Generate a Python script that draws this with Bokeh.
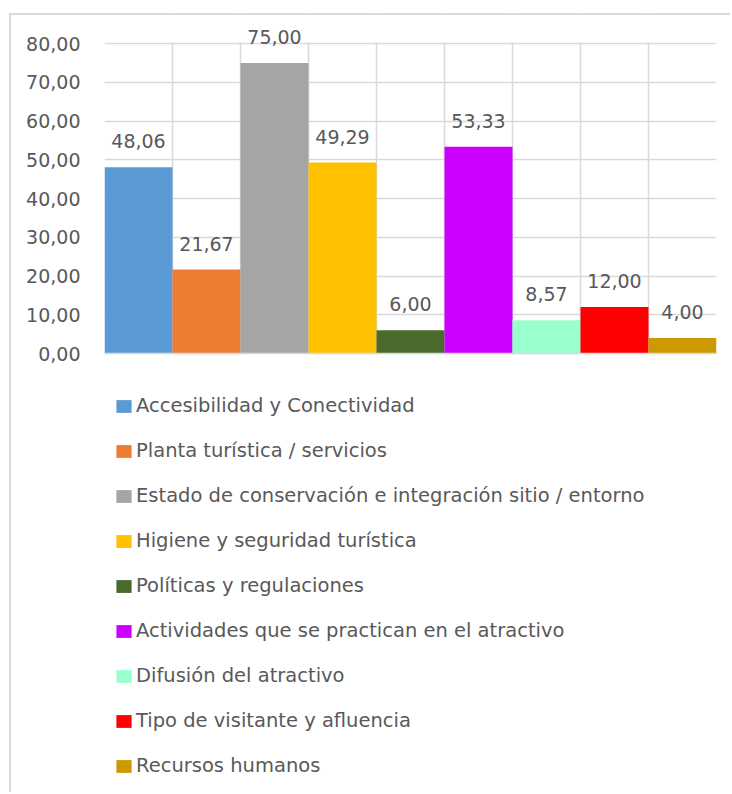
from bokeh.plotting import figure
from bokeh.models import (ColumnDataSource, FixedTicker, Legend, LegendItem,
                          BoxAnnotation, Span)
from bokeh.core.properties import value
from bokeh.embed import file_html
from bokeh.resources import INLINE

categories = [
    "Accesibilidad y Conectividad",
    "Planta turística / servicios",
    "Estado de conservación e integración sitio / entorno",
    "Higiene y seguridad turística",
    "Políticas y regulaciones",
    "Actividades que se practican en el atractivo",
    "Difusión del atractivo",
    "Tipo de visitante y afluencia",
    "Recursos humanos",
]
values = [48.06, 21.67, 75.00, 49.29, 6.00, 53.33, 8.57, 12.00, 4.00]
colors = ["#5B9BD5", "#ED7D31", "#A5A5A5", "#FFC000", "#4A6B2B",
          "#CC00FF", "#99FFCC", "#FF0000", "#CC9900"]
y_ticks = [0, 10, 20, 30, 40, 50, 60, 70, 80]
y_tick_labels = ["0,00", "10,00", "20,00", "30,00", "40,00", "50,00",
                 "60,00", "70,00", "80,00"]
y_max = 80

FONT = "DejaVu Sans"
TXT = "#595959"
GRID = "#D9D9D9"

# layout (pixels)
W, H = 721, 779
LEFT, RIGHT = 93, 16
TOP_PAD = 28          # space between canvas top and the 80 line
PLOT_H = 310          # 0 -> 80
px_per_unit = PLOT_H / y_max
below_px = H - TOP_PAD - PLOT_H

src = ColumnDataSource(dict(
    x=[i + 0.5 for i in range(len(values))],
    top=values,
    color=colors,
    label=[f"{v:.2f}".replace(".", ",") for v in values],
))

p = figure(width=W, height=H, output_backend="svg", toolbar_location=None,
           x_range=(0, len(values)),
           y_range=(-below_px / px_per_unit, y_max + TOP_PAD / px_per_unit),
           min_border_left=LEFT, min_border_right=RIGHT, min_border_top=0,
           min_border_bottom=0)
p.margin = (13, 0, 0, 9)
p.styles = {"border-left": f"2px solid {GRID}", "border-top": f"2px solid {GRID}"}
p.outline_line_color = None
p.background_fill_color = "white"
p.border_fill_color = "white"

p.xaxis.visible = False
p.xgrid.ticker = FixedTicker(ticks=list(range(len(values) + 1)))
p.xgrid.grid_line_color = GRID
p.xgrid.grid_line_width = 1.5
p.ygrid.ticker = FixedTicker(ticks=y_ticks)
p.ygrid.grid_line_color = GRID
p.ygrid.grid_line_width = 1.5

p.yaxis.ticker = FixedTicker(ticks=y_ticks)
p.yaxis.bounds = (0, y_max)
p.yaxis.major_label_overrides = {t: l for t, l in zip(y_ticks, y_tick_labels)}
p.yaxis.axis_line_color = None
p.yaxis.major_tick_line_color = None
p.yaxis.minor_tick_line_color = None
p.yaxis.major_label_standoff = 18
p.yaxis.major_label_text_font = FONT
p.yaxis.major_label_text_font_size = "19px"
p.yaxis.major_label_text_color = TXT

# keep the vertical grid lines inside the 0..80 plot area
p.add_layout(BoxAnnotation(bottom=y_max + 0.25, fill_color="white", fill_alpha=1,
                           line_color=None, level="underlay"))
p.add_layout(BoxAnnotation(top=-0.25, fill_color="white", fill_alpha=1,
                           line_color=None, level="underlay"))

r = p.vbar(x="x", top="top", width=1.0, bottom=0, fill_color="color",
           line_color=None, source=src)

p.add_layout(Span(location=0, dimension="width", line_color=GRID, line_width=1.5))

p.text(x="x", y="top", text="label", source=src, text_align="center",
       text_baseline="middle", y_offset=-26, text_font=value(FONT),
       text_font_size="19px", text_color=TXT)

items = [LegendItem(label=c, renderers=[r], index=i) for i, c in enumerate(categories)]
legend = Legend(items=items, location=(10, 17), orientation="vertical",
                glyph_width=19, glyph_height=16, label_height=21, spacing=22,
                label_standoff=3, padding=0, margin=0,
                border_line_color=None, background_fill_alpha=0,
                label_text_font=FONT, label_text_font_size="19.5px",
                label_text_color=TXT)
p.add_layout(legend)

open("out.html", "w").write(file_html(p, INLINE))
